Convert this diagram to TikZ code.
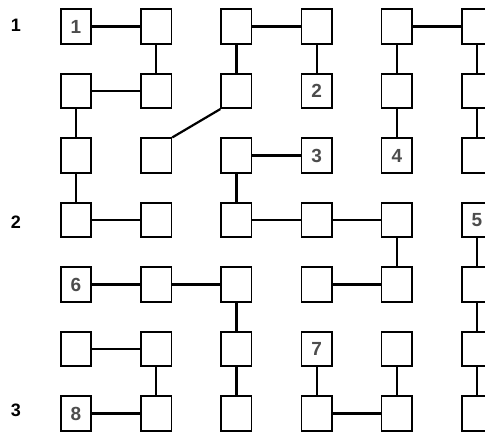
\documentclass[tikz,border=0pt]{standalone}
\usepackage{fontspec}
\setmainfont{Liberation Sans}
\usetikzlibrary{positioning}

\begin{document}
\begin{tikzpicture}[x=1pt, y=-1pt,
        cell/.style={draw, line width=1.6pt, minimum width=30.5pt, minimum height=34.5pt, inner sep=0pt},
        num/.style={font=\fontsize{19}{20}\selectfont\bfseries, text=black!70},
        rowlabel/.style={font=\fontsize{18}{20}\selectfont\bfseries},
        link/.style={line width=2.2pt}]
    \useasboundingbox (0,0) rectangle (485,432);
    \clip (0,0) rectangle (485,432);
    \foreach \c in {1,...,6}
        \foreach \r in {1,...,7}
            \node[cell] (n\c\r) at ({76+80.2*(\c-1)}, {26.5+64.5*(\r-1)}) {};
    \node[num] (t1) at (n11) {1};
    \node[num] (t2) at (n42) {2};
    \node[num] (t3) at (n43) {3};
    \node[num] (t4) at (n53) {4};
    \node[num] (t5) at (n64) {5};
    \node[num] (t6) at (n15) {6};
    \node[num] (t7) at (n46) {7};
    \node[num] (t8) at (n17) {8};
    \node[rowlabel] (r1) at (16,25) {1};
    \node[rowlabel] (r2) at (16,222) {2};
    \node[rowlabel] (r3) at (16,410) {3};
    \foreach \a/\b in {n11/n21, n31/n41, n51/n61, n12/n22, n33/n43, n14/n24, n34/n44,
            n44/n54, n15/n25, n25/n35, n45/n55, n16/n26, n17/n27, n47/n57}
        \draw[link] (\a) -- (\b);
    \foreach \a/\b in {n21/n22, n31/n32, n41/n42, n51/n52, n61/n62, n12/n13, n52/n53,
            n62/n63, n13/n14, n33/n34, n54/n55, n64/n65, n35/n36, n65/n66,
            n26/n27, n36/n37, n46/n47, n56/n57, n66/n67}
        \draw[link] (\a) -- (\b);
    \draw[link] (n32.south west) -- (n23.north east);
\end{tikzpicture}
\end{document}
